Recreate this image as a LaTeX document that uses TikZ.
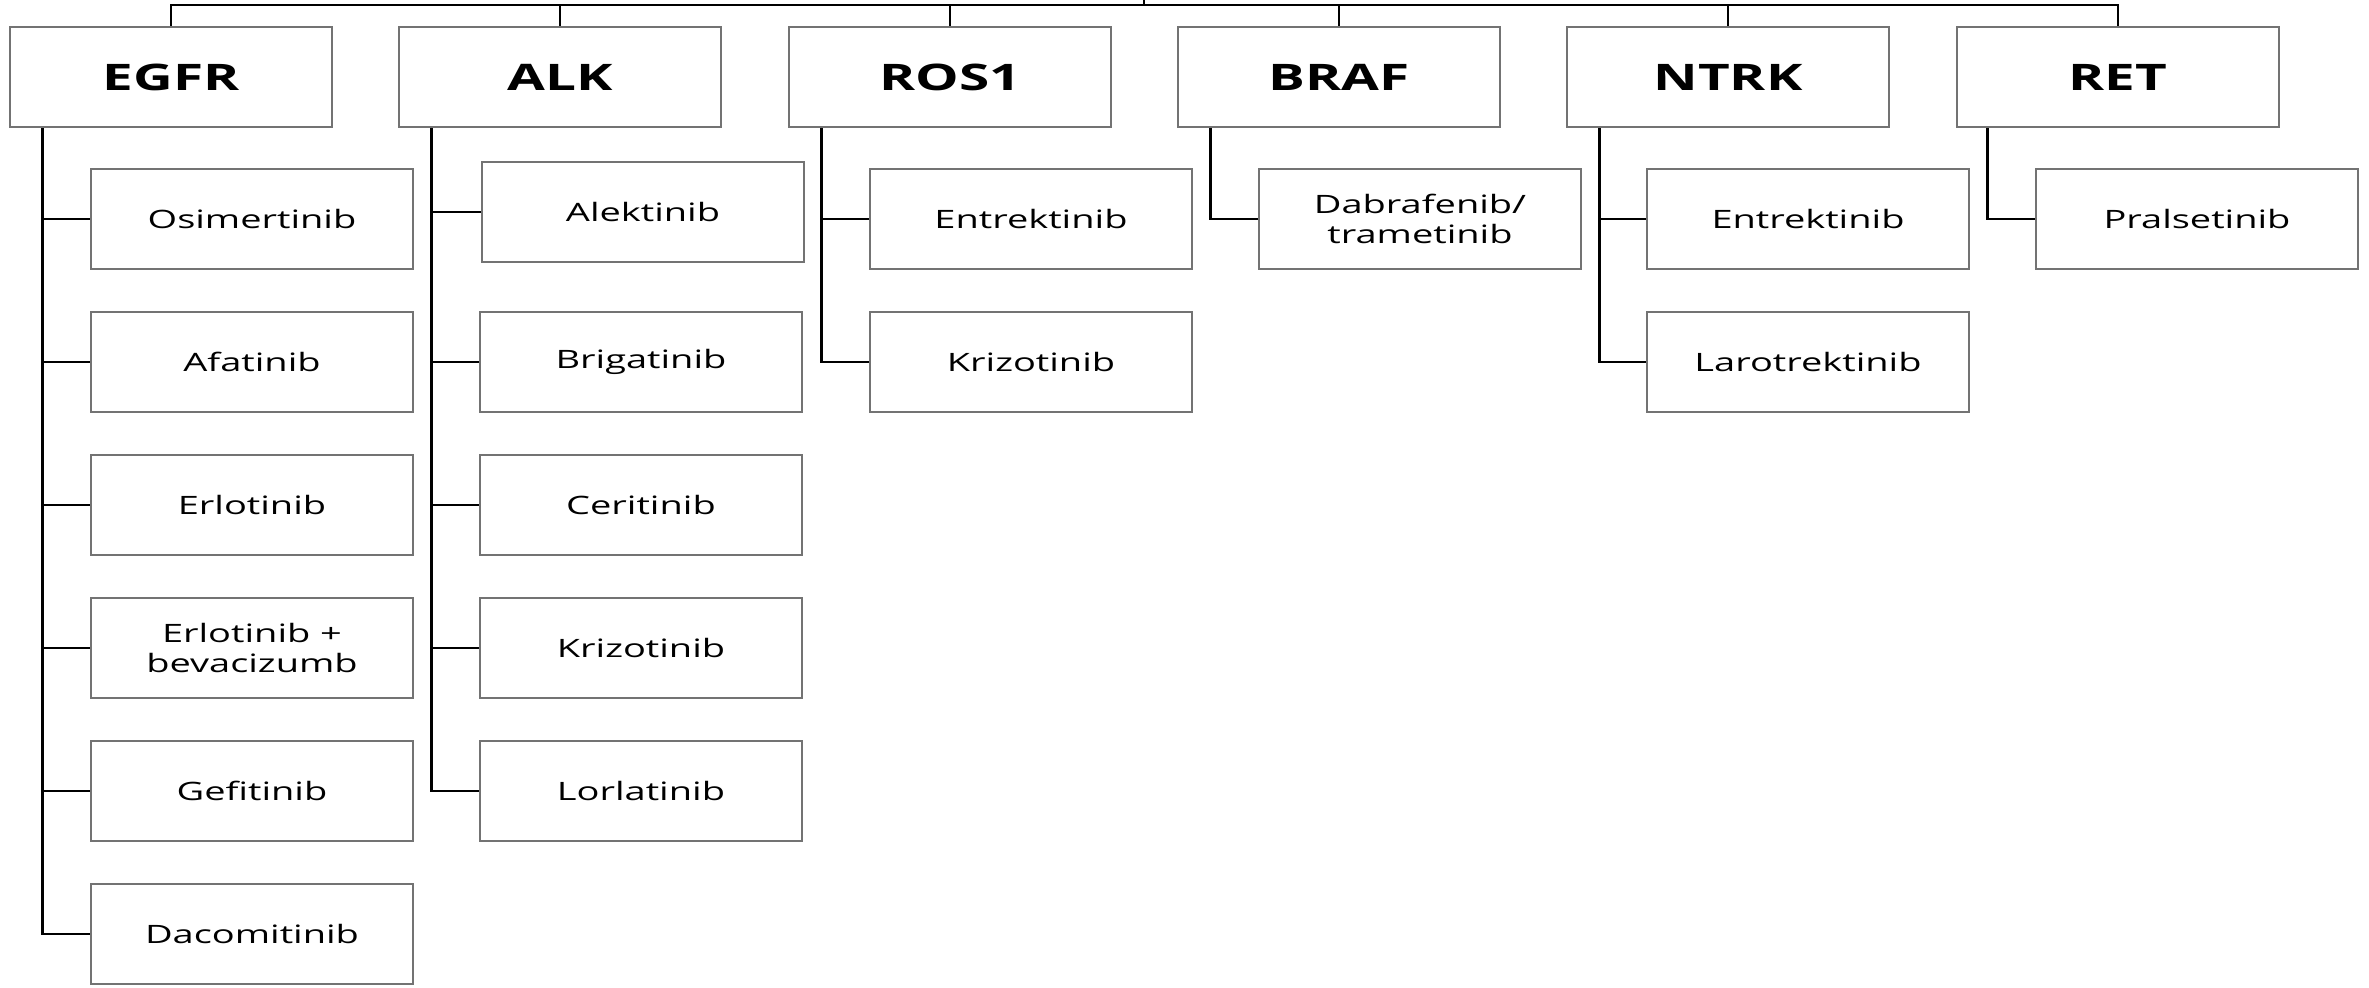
\documentclass[tikz,border=0pt]{standalone}
\usepackage{fontspec}
\setmainfont[FakeStretch=1.5]{Open Sans}

\begin{document}
\begin{tikzpicture}[x=0.01cm,y=0.01cm,
    gene/.style={draw=black!55,line width=0.6pt,minimum width=3.22cm,minimum height=1cm,
                 inner sep=0pt,font=\bfseries\fontsize{10.4}{12}\selectfont},
    drug/.style={gene,align=center,font=\fontsize{7.2}{8.4}\selectfont},
    link/.style={line width=0.8pt}]
    \useasboundingbox (0,0) rectangle (2369,987);
    \coordinate (top) at (1144,982);
    \coordinate (root) at (1144,987);

    \node[gene] (egfr) at (171,910) {EGFR};
    \node[gene] (alk)  at (560,910) {ALK};
    \node[gene] (ros)  at (950,910) {ROS1};
    \node[gene] (braf) at (1339,910) {BRAF};
    \node[gene] (ntrk) at (1728,910) {NTRK};
    \node[gene] (ret)  at (2118,910) {RET};

    \node[drug] (osim)    at (252,768) {Osimertinib};
    \node[drug] (afat)    at (252,625) {Afatinib};
    \node[drug] (erlo)    at (252,482) {Erlotinib};
    \node[drug] (erlobev) at (252,339) {Erlotinib +\\bevacizumb};
    \node[drug] (gefi)    at (252,196) {Gefitinib};
    \node[drug] (dacomi)  at (252,53)  {Dacomitinib};

    \node[drug] (alek)  at (643,775) {Alektinib};
    \node[drug] (briga) at (641,625) {Brigatinib};
    \node[drug] (ceri)  at (641,482) {Ceritinib};
    \node[drug] (krizo) at (641,339) {Krizotinib};
    \node[drug] (lorla) at (641,196) {Lorlatinib};

    \node[drug] (entrek)   at (1031,768) {Entrektinib};
    \node[drug] (krizoros) at (1031,625) {Krizotinib};

    \node[drug] (dabra) at (1420,768) {Dabrafenib/\\trametinib};

    \node[drug] (entrekn) at (1808,768) {Entrektinib};
    \node[drug] (laro)    at (1808,625) {Larotrektinib};

    \node[drug] (prals) at (2197,768) {Pralsetinib};

    % top level
    \draw[link] (egfr.north) |- (top) -| (ret.north);
    \draw[link] (top) -- (root);
    \foreach \g in {alk,ros,braf,ntrk}
        \draw[link] (\g.north) -- (\g.north |- top);

    % branches
    \foreach \d in {osim,afat,erlo,erlobev,gefi,dacomi}
        \draw[link] ([xshift=0.34cm]egfr.south west) |- (\d.west);
    \foreach \d in {alek,briga,ceri,krizo,lorla}
        \draw[link] ([xshift=0.34cm]alk.south west) |- (\d.west);
    \foreach \d in {entrek,krizoros}
        \draw[link] ([xshift=0.34cm]ros.south west) |- (\d.west);
    \draw[link] ([xshift=0.34cm]braf.south west) |- (dabra.west);
    \foreach \d in {entrekn,laro}
        \draw[link] ([xshift=0.34cm]ntrk.south west) |- (\d.west);
    \draw[link] ([xshift=0.32cm]ret.south west) |- (prals.west);
\end{tikzpicture}
\end{document}
